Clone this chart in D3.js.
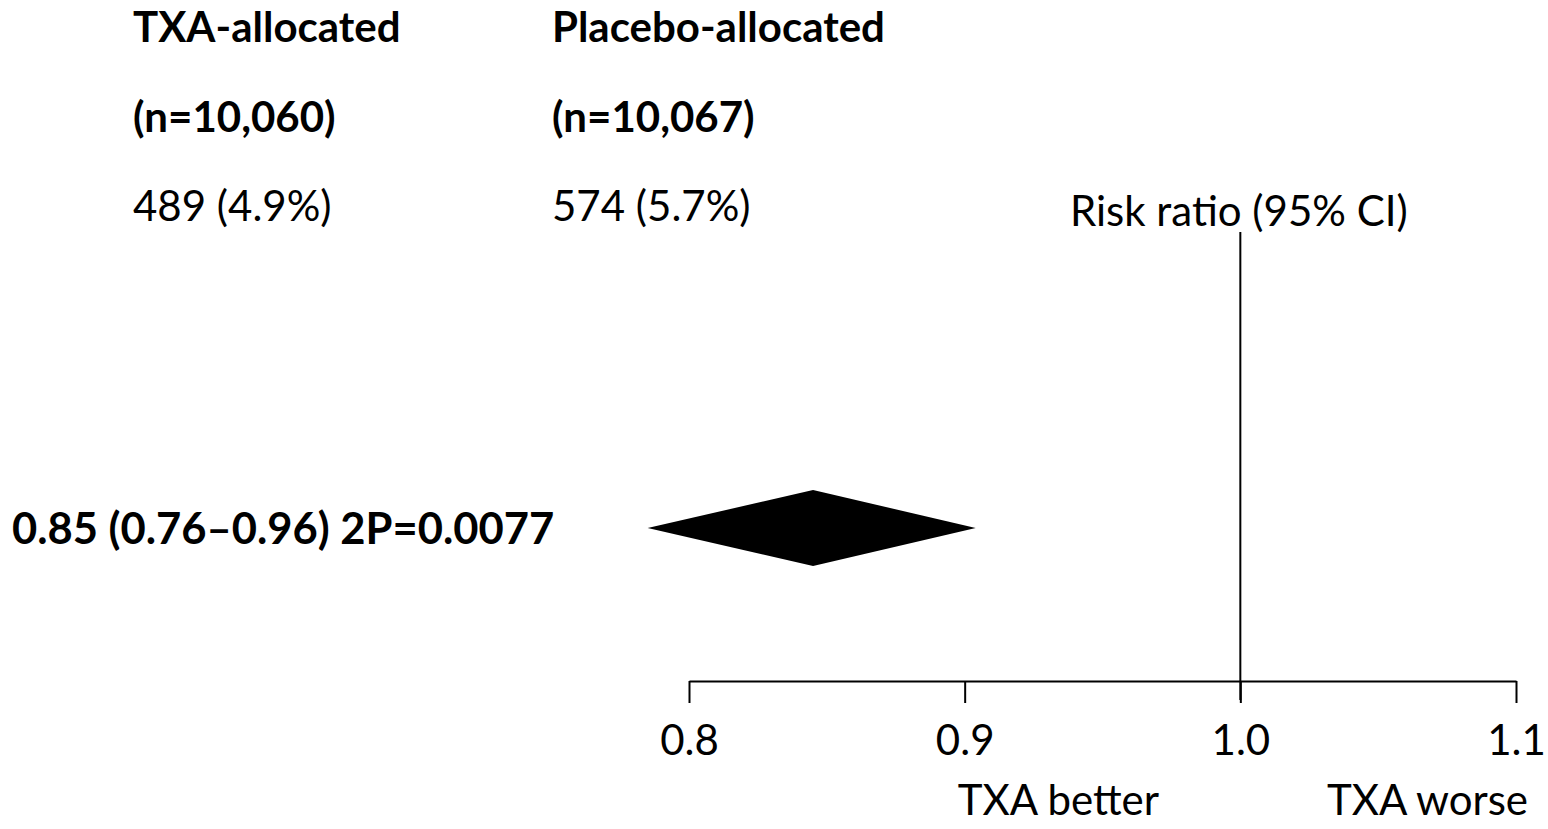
<!DOCTYPE html>
<html>
<head>
<meta charset="utf-8">
<script src="https://cdn.jsdelivr.net/npm/d3@7"></script>
<style>
  body { margin: 0; background: #fff; }
  text { font-family: Lato, "Open Sans", sans-serif; fill: #000; }
</style>
</head>
<body>
<script>
const width = 1548;
const height = 829;

// table columns
const groupNames = ["TXA-allocated", "Placebo-allocated"];
const groupSizes = ["(n=10,060)", "(n=10,067)"];
const groupEvents = ["489 (4.9%)", "574 (5.7%)"];

// pooled estimate as drawn (diamond)
const summaryLabel = "0.85 (0.76\u20130.96) 2P=0.0077";
const summaryRR = 0.845;
const summaryLow = 0.785;
const summaryHigh = 0.904;

const tickValues = [0.8, 0.9, 1.0, 1.1];
const directionLabels = ["TXA better", "TXA worse"];

const svg = d3.select('body').append('svg')
  .attr('width', width)
  .attr('height', height);

const x = d3.scaleLinear()
  .domain([0.8, 1.1])
  .range([689, 1516]);

const colX = d3.scalePoint()
  .domain(groupNames)
  .range([133, 552]);

const fs = 42;

// header + counts
groupNames.forEach((g, i) => {
  svg.append('text')
    .attr('x', colX(g)).attr('y', 42)
    .attr('font-size', fs).attr('font-weight', 'bold')
    .text(g);
  svg.append('text')
    .attr('x', colX(g)).attr('y', 132)
    .attr('font-size', fs).attr('font-weight', 'bold')
    .text(groupSizes[i]);
  svg.append('text')
    .attr('x', colX(g)).attr('y', 221)
    .attr('font-size', fs)
    .text(groupEvents[i]);
});

svg.append('text')
  .attr('x', 1070).attr('y', 226)
  .attr('font-size', fs)
  .text('Risk ratio (95% CI)');

// line of no effect
svg.append('line')
  .attr('x1', x(1)).attr('x2', x(1))
  .attr('y1', 232).attr('y2', 700)
  .attr('stroke', '#000').attr('stroke-width', 2);

// diamond
const yMid = 528, half = 38;
svg.append('path')
  .attr('d', d3.line()([
    [x(summaryLow), yMid],
    [x(summaryRR), yMid - half],
    [x(summaryHigh), yMid],
    [x(summaryRR), yMid + half]
  ]) + 'Z')
  .attr('fill', '#000');

svg.append('text')
  .attr('x', 12).attr('y', 544)
  .attr('font-size', 43.5).attr('font-weight', 'bold')
  .text(summaryLabel);

// axis
const axis = d3.axisBottom(x)
  .tickValues(tickValues)
  .tickFormat(d3.format('.1f'))
  .tickSizeInner(22)
  .tickSizeOuter(0)
  .tickPadding(22);

const ax = svg.append('g')
  .attr('transform', 'translate(0,681)')
  .call(axis);

ax.select('.domain').attr('stroke-width', 2);
ax.selectAll('.tick line').attr('stroke-width', 2);
ax.selectAll('.tick text')
  .attr('font-size', fs)
  .attr('font-family', 'Lato, sans-serif');

svg.append('text')
  .attr('x', x(0.9) - 7).attr('y', 815)
  .attr('font-size', fs)
  .text(directionLabels[0]);
svg.append('text')
  .attr('x', 1528).attr('y', 815)
  .attr('font-size', fs)
  .attr('text-anchor', 'end')
  .text(directionLabels[1]);
</script>
</body>
</html>
